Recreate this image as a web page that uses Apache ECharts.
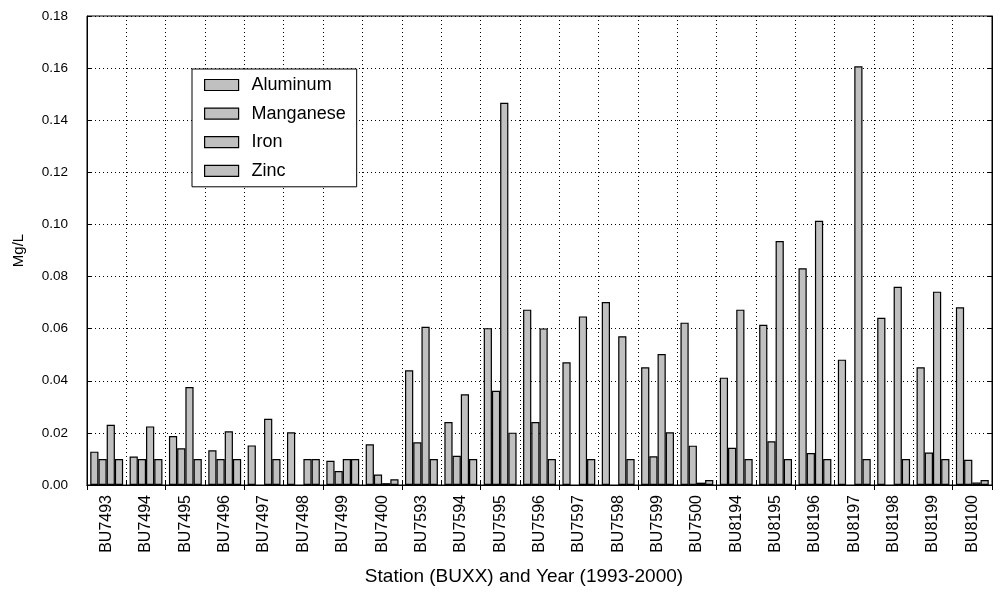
<!DOCTYPE html>
<html>
<head>
<meta charset="utf-8">
<script src="https://cdn.jsdelivr.net/npm/echarts@6/dist/echarts.min.js"></script>
<style>
html,body{margin:0;padding:0;background:#fff;}
#chart{width:1001px;height:592px;}
</style>
</head>
<body>
<div id="chart"></div>
<script>
var categories = ['BU7493','BU7494','BU7495','BU7496','BU7497','BU7498','BU7499','BU7400','BU7593','BU7594','BU7595','BU7596','BU7597','BU7598','BU7599','BU7500','BU8194','BU8195','BU8196','BU8197','BU8198','BU8199','BU8100'];
var aluminum  = [0.0128,0.0109,0.0188,0.0133,0.0152,0.0202,0.0093,0.0156,0.0440,0.0242,0.0602,0.0673,0.0471,0.0702,0.0452,0.0623,0.0412,0.0615,0.0832,0.0481,0.0642,0.0452,0.0682];
var manganese = [0.0100,0.0100,0.0141,0.0100,null,null,0.0054,0.0040,0.0164,0.0112,0.0362,0.0242,null,null,0.0110,0.0151,0.0143,0.0168,0.0123,null,null,0.0125,0.0097];
var iron      = [0.0231,0.0225,0.0376,0.0206,0.0254,0.0100,0.0100,0.0007,0.0607,0.0348,0.1467,0.0601,0.0647,0.0571,0.0503,0.0009,0.0673,0.0936,0.1014,0.1607,0.0761,0.0742,0.0010];
var zinc      = [0.0100,0.0100,0.0100,0.0100,0.0100,0.0100,0.0100,0.0022,0.0100,0.0100,0.0201,0.0100,0.0100,0.0100,0.0202,0.0019,0.0100,0.0100,0.0100,0.0100,0.0100,0.0100,0.0019];
var seriesNames = ['Aluminum','Manganese','Iron','Zinc'];
var seriesData = [aluminum, manganese, iron, zinc];

var FONT = '"Liberation Sans", Arial, sans-serif';
var chart = echarts.init(document.getElementById('chart'), null, {renderer:'canvas'});
var dotted = {color:'#000', width:1, type:[1,3]};

var series = seriesNames.map(function(n, i){
  return {
    name: n, type: 'bar', xAxisIndex: 0, yAxisIndex: 0,
    data: seriesData[i],
    barGap: '0%', barCategoryGap: '16.5%',
    itemStyle: {color:'#c0c0c0', borderColor:'#000', borderWidth:1.2},
    emphasis: {disabled:true},
    animation: false
  };
});

chart.setOption({
  animation: false,
  textStyle: {fontFamily: FONT},
  grid: {left:87, right:9, top:16, bottom:107, show:true, borderColor:'#000', borderWidth:1, backgroundColor:'#fff'},
  legend: {
    orient: 'vertical', left: 192, top: 69,
    data: seriesNames.map(function(n){ return {name:n, icon:'rect'}; }),
    backgroundColor: '#fff', borderColor: '#000', borderWidth: 1,
    padding: [7, 11, 7, 12],
    itemWidth: 34, itemHeight: 11, itemGap: 10.6,
    itemStyle: {color:'#c0c0c0', borderColor:'#000', borderWidth:1.2},
    textStyle: {fontFamily: FONT, fontSize: 18, color:'#000', lineHeight: 18, padding:[0,0,0,8]},
    selectedMode: false
  },
  xAxis: [{
    type: 'category', data: categories, position: 'bottom',
    name: 'Station (BUXX) and Year (1993-2000)', nameLocation: 'middle', nameGap: 82,
    nameTextStyle: {fontFamily: FONT, fontSize: 19, color:'#000', padding:[0,31,0,0]},
    axisLine: {show:true, lineStyle:{color:'#000', width:1}},
    axisTick: {show:true, inside:true, length:5, alignWithLabel:false, lineStyle:{color:'#000'}},
    axisLabel: {rotate: 90, fontFamily: FONT, fontSize: 16, color:'#000', margin: 10, interval: 0},
    splitLine: {show:true, interval: 0, lineStyle: dotted}
  },{
    type: 'category', data: categories, position: 'top',
    axisLine: {show:true, lineStyle:{color:'#000'}},
    axisTick: {show:true, inside:true, length:5, lineStyle:{color:'#000'}},
    axisLabel: {show:false}, splitLine: {show:false}
  }],
  yAxis: [{
    type: 'value', min: 0, max: 0.18, interval: 0.02, position: 'left',
    name: 'Mg/L', nameLocation: 'middle', nameGap: 61, nameRotate: 90,
    nameTextStyle: {fontFamily: FONT, fontSize: 15, color:'#000'},
    axisLine: {show:true, lineStyle:{color:'#000'}},
    axisTick: {show:true, inside:true, length:5, lineStyle:{color:'#000'}},
    axisLabel: {fontFamily: FONT, fontSize: 13.5, color:'#000', margin: 19,
      formatter: function(v){ return v.toFixed(2); }},
    splitLine: {show:true, lineStyle: dotted}
  },{
    type: 'value', min: 0, max: 0.18, interval: 0.02, position: 'right',
    axisLine: {show:true, lineStyle:{color:'#000'}},
    axisTick: {show:true, inside:true, length:5, lineStyle:{color:'#000'}},
    axisLabel: {show:false}, splitLine: {show:false}
  }],
  series: series
});
</script>
</body>
</html>
